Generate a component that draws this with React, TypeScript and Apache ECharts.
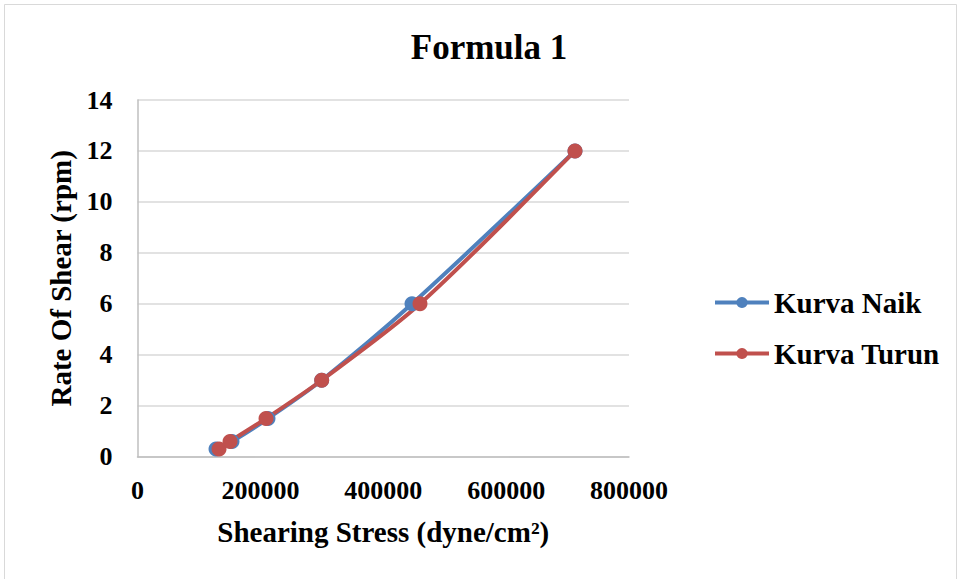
import React, { useEffect, useRef } from "react";
import * as echarts from "echarts";

const naikX = [127800, 153800, 212400, 299800, 446800, 712100];
const naikY = [0.3, 0.6, 1.5, 3, 6, 12];
const turunX = [132700, 150600, 209200, 299800, 459800, 712100];
const turunY = [0.3, 0.6, 1.5, 3, 6, 12];
const seriesNames = ["Kurva Naik", "Kurva Turun"];
const titleText = "Formula 1";
const xName = "Shearing Stress (dyne/cm²)";
const yName = "Rate Of Shear (rpm)";

const FONT = "'Liberation Serif', 'Times New Roman', serif";

export default function App() {
  const ref = useRef<HTMLDivElement>(null);
  useEffect(() => {
    if (!ref.current) return;
    const chart = echarts.init(ref.current, undefined, { renderer: "svg" });
    const pair = (xs: number[], ys: number[]) => xs.map((x, i) => [x, ys[i]]);
    chart.setOption({
      animation: false,
      backgroundColor: "#fff",
      textStyle: { fontFamily: FONT },
      title: {
        text: titleText,
        left: 489,
        textAlign: "center",
        top: 30,
        padding: 0,
        textStyle: { fontFamily: FONT, fontWeight: "bold", fontSize: 35, color: "#000" },
      },
      graphic: [
        {
          type: "rect",
          shape: { x: 4.5, y: 4.5, width: 952, height: 580 },
          style: { fill: "none", stroke: "#d9d9d9", lineWidth: 1 },
          silent: true,
          z: -10,
        },
      ],
      grid: { left: 137.5, top: 100, width: 491.5, height: 356.7, containLabel: false },
      legend: {
        orient: "vertical",
        left: 713,
        top: 288,
        padding: 0,
        itemWidth: 54,
        itemHeight: 14,
        itemGap: 22,
        lineStyle: { width: 4 },
        textStyle: { fontFamily: FONT, fontWeight: "bold", fontSize: 29, color: "#000" },
        data: seriesNames,
      },
      xAxis: {
        type: "value",
        min: 0,
        max: 800000,
        interval: 200000,
        name: xName,
        nameLocation: "middle",
        nameGap: 61,
        nameTextStyle: { fontFamily: FONT, fontWeight: "bold", fontSize: 29, color: "#000" },
        axisLine: { show: true, lineStyle: { color: "#bfbfbf", width: 1.5 } },
        axisTick: { show: false },
        splitLine: { show: false },
        axisLabel: {
          fontFamily: FONT,
          fontWeight: "bold",
          fontSize: 26,
          color: "#000",
          margin: 21,
          formatter: (v: number) => String(v),
        },
      },
      yAxis: {
        type: "value",
        min: 0,
        max: 14,
        interval: 2,
        name: yName,
        nameLocation: "middle",
        nameGap: 59,
        nameTextStyle: { fontFamily: FONT, fontWeight: "bold", fontSize: 29, color: "#000" },
        axisLine: { show: true, lineStyle: { color: "#bfbfbf", width: 1.5 } },
        axisTick: { show: false },
        splitLine: { show: true, lineStyle: { color: "#d9d9d9", width: 1.5 } },
        axisLabel: { fontFamily: FONT, fontWeight: "bold", fontSize: 26, color: "#000", margin: 25 },
      },
      series: [
        {
          name: seriesNames[0],
          type: "line",
          data: pair(naikX, naikY),
          smooth: 0.3,
          symbol: "circle",
          symbolSize: 15,
          lineStyle: { color: "#4f81bd", width: 4 },
          itemStyle: { color: "#4f81bd" },
        },
        {
          name: seriesNames[1],
          type: "line",
          data: pair(turunX, turunY),
          smooth: 0.3,
          symbol: "circle",
          symbolSize: 15,
          lineStyle: { color: "#c0504d", width: 4 },
          itemStyle: { color: "#c0504d" },
        },
      ],
    });
    return () => chart.dispose();
  }, []);
  return (
    <div
      ref={ref}
      style={{ position: "fixed", left: 0, top: 0, width: 960, height: 579 }}
    />
  );
}
